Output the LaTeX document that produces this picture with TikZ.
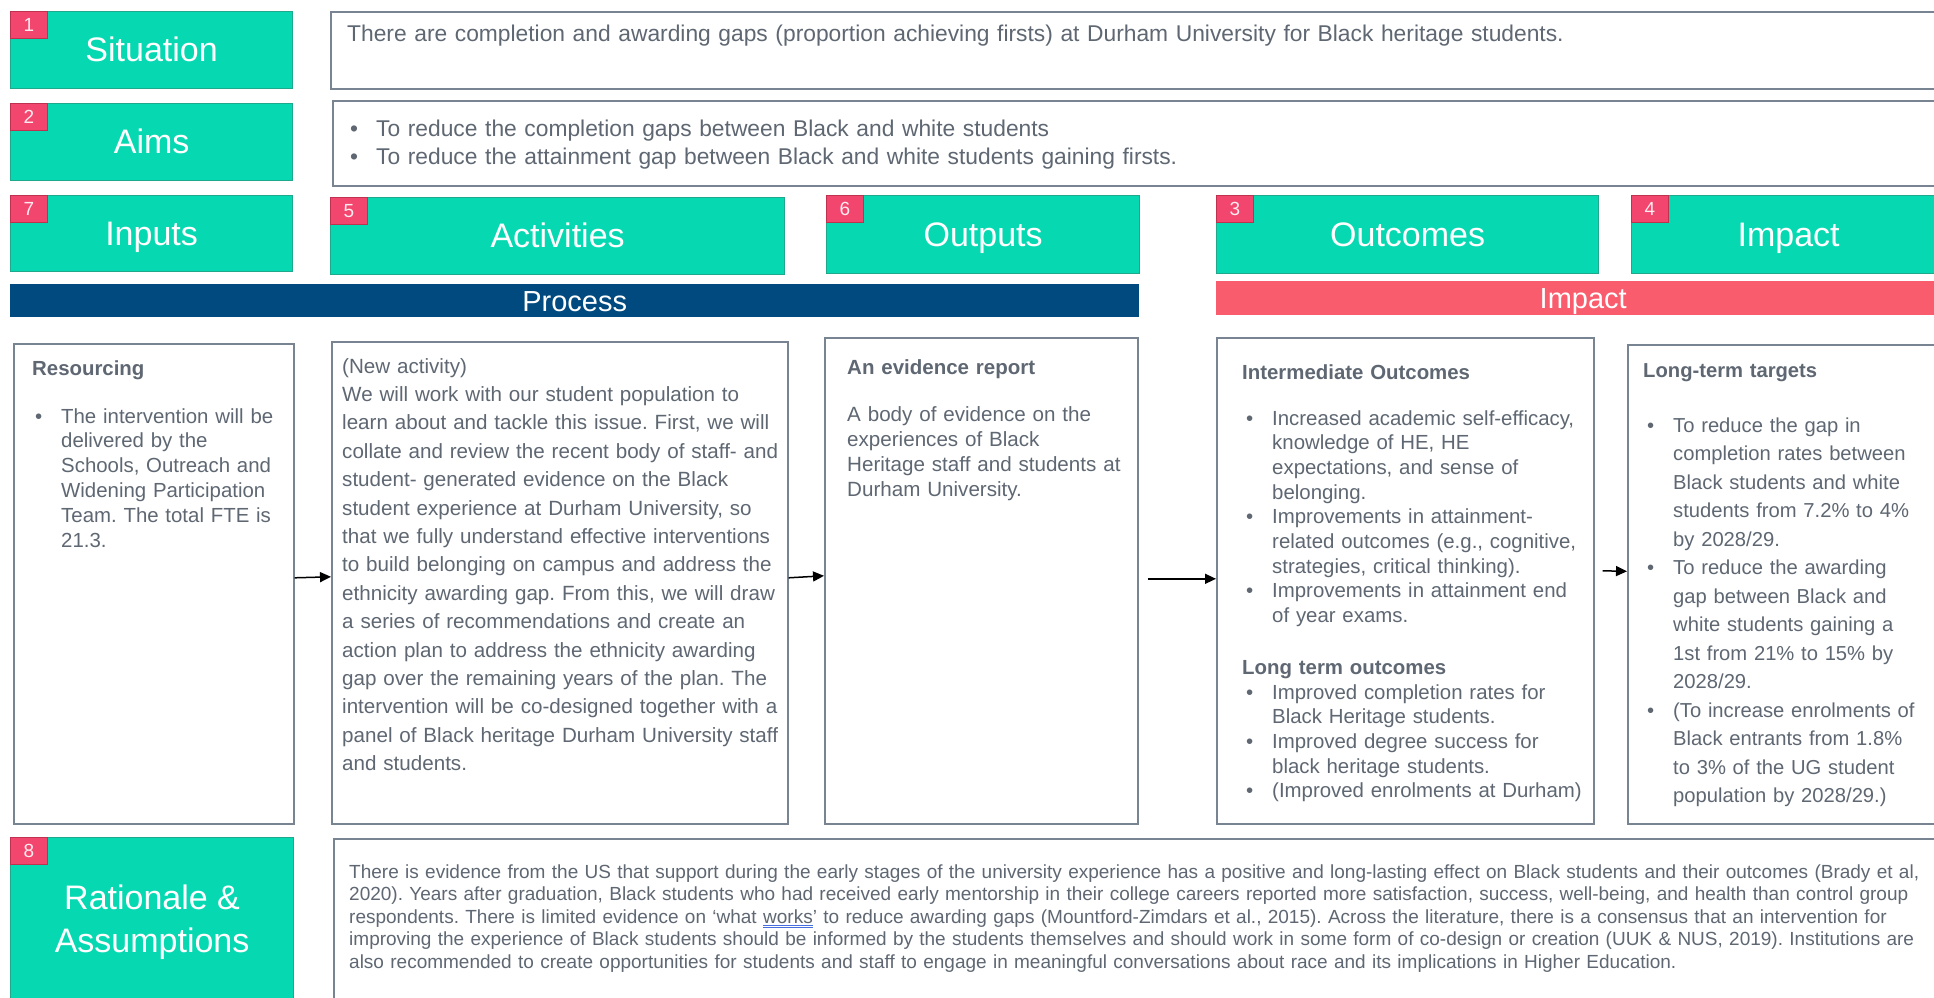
\documentclass[tikz,border=0pt]{standalone}
\usepackage{fontspec}
\setmainfont{Liberation Sans}
\usepackage{tikz}
\usetikzlibrary{arrows.meta}
\frenchspacing

\definecolor{tealfill}{RGB}{6,217,178}
\definecolor{tealline}{RGB}{32,168,140}
\definecolor{badgefill}{RGB}{242,70,110}
\definecolor{badgeline}{RGB}{190,50,80}
\definecolor{badgetext}{RGB}{255,236,240}
\definecolor{procfill}{RGB}{0,74,127}
\definecolor{impfill}{RGB}{249,92,108}
\definecolor{txtgrey}{RGB}{94,103,114}
\definecolor{boxline}{RGB}{120,132,146}
\definecolor{chkblue}{RGB}{70,110,220}

\newcommand{\bitem}{\makebox[26pt][l]{•}}
\newcommand{\bcont}{\hspace*{26pt}}
\newcommand{\chkline}[1]{{\setbox0\hbox{#1}\rlap{\color{chkblue}\rule[-3pt]{\wd0}{0.8pt}}\rlap{\color{chkblue}\rule[-5pt]{\wd0}{0.8pt}}#1}}

\begin{document}
\begin{tikzpicture}[x=1pt, y=-1pt,
    tealbox/.style={fill=tealfill, draw=tealline, line width=1.2pt, inner sep=0pt, anchor=north west, text=white, font=\fontsize{34}{43}\selectfont},
    lbl/.style={text height=25pt, text depth=2pt},
    badge/.style={fill=badgefill, draw=badgeline, line width=1pt, inner sep=0pt, anchor=north west, minimum width=37pt, minimum height=27pt, text=badgetext, font=\fontsize{19}{19}\selectfont},
    bar/.style={inner sep=0pt, anchor=north west, text=white, font=\fontsize{29}{29}\selectfont, text height=21pt, text depth=0pt},
    txtbox/.style={draw=boxline, line width=1.6pt, fill=white, inner sep=0pt, anchor=north west},
    body/.style={inner sep=0pt, anchor=base west, text=txtgrey, align=left, text width=#1},
    arr/.style={-{Triangle[length=11pt,width=10pt]}, line width=1.5pt, black}]

    \useasboundingbox (0,0) rectangle (1934,997);
    \fill[white] (0,0) rectangle (1934,997);
    \clip (0,0) rectangle (1934,997);

    % Draw the row headers
    \node[tealbox, lbl, minimum width=282pt, minimum height=77pt] (sit) at (10,11) {Situation};
    \node[tealbox, lbl, minimum width=282pt, minimum height=77pt] (aims) at (10,103) {Aims};
    \node[tealbox, lbl, minimum width=282pt, minimum height=76pt] (inp) at (10,195) {Inputs};
    \node[tealbox, lbl, minimum width=454pt, minimum height=77pt] (actv) at (330,197) {Activities};
    \node[tealbox, lbl, minimum width=313pt, minimum height=78pt] (outp) at (826,195) {Outputs};
    \node[tealbox, lbl, minimum width=382pt, minimum height=78pt] (outc) at (1216,195) {Outcomes};
    \node[tealbox, lbl, minimum width=314pt, minimum height=78pt] (imp) at (1631,195) {Impact};
    \node[tealbox, align=center, minimum width=283pt, minimum height=169pt] (rat) at (10,837) {Rationale \&\\Assumptions};

    % Number badges
    \node[badge] (n1) at (sit.north west) {1};
    \node[badge] (n2) at (aims.north west) {2};
    \node[badge] (n7) at (inp.north west) {7};
    \node[badge] (n5) at (actv.north west) {5};
    \node[badge] (n6) at (outp.north west) {6};
    \node[badge] (n3) at (outc.north west) {3};
    \node[badge] (n4) at (imp.north west) {4};
    \node[badge] (n8) at (rat.north west) {8};

    % Process and impact bars
    \node[bar, fill=procfill, minimum width=1129pt, minimum height=33pt] (procbar) at (10,284) {Process};
    \node[bar, fill=impfill, minimum width=734pt, minimum height=34pt] (impbar) at (1216,281) {Impact};

    % Situation and aims
    \node[txtbox, minimum width=1620pt, minimum height=77pt] (sitbox) at (330,11) {};
    \node[body=1500pt, font=\fontsize{22.8}{28}\selectfont] (sittext) at (347,41)
        {There are completion and awarding gaps (proportion achieving firsts) at Durham University for Black heritage students.};
    \node[txtbox, minimum width=1618pt, minimum height=85pt] (aimsbox) at (332,100) {};
    \node[body=1500pt, font=\fontsize{22.8}{28}\selectfont] (aimstext) at (350,136)
        {\bitem To reduce the completion gaps between Black and white students\\
         \bitem To reduce the attainment gap between Black and white students gaining firsts.};

    % Inputs
    \node[txtbox, minimum width=280pt, minimum height=480pt] (res) at (13,343) {};
    \node[body=250pt, font=\bfseries\fontsize{20.4}{24.8}\selectfont] (reshead) at (32,375) {Resourcing};
    \node[body=300pt, font=\fontsize{20.4}{24.8}\selectfont] (restext) at (35,423)
        {\bitem The intervention will be\\
         \bcont delivered by the\\
         \bcont Schools, Outreach and\\
         \bcont Widening Participation\\
         \bcont Team. The total FTE is\\
         \bcont 21.3.};

    % Activities
    \node[txtbox, minimum width=456pt, minimum height=482pt] (act) at (331,341) {};
    \node[body=500pt, font=\fontsize{20.6}{28.4}\selectfont] (acttext) at (342,373)
        {(New activity)\\
         We will work with our student population to\\
         learn about and tackle this issue. First, we will\\
         collate and review the recent body of staff- and\\
         student- generated evidence on the Black\\
         student experience at Durham University, so\\
         that we fully understand effective interventions\\
         to build belonging on campus and address the\\
         ethnicity awarding gap. From this, we will draw\\
         a series of recommendations and create an\\
         action plan to address the ethnicity awarding\\
         gap over the remaining years of the plan. The\\
         intervention will be co-designed together with a\\
         panel of Black heritage Durham University staff\\
         and students.};

    % Outputs
    \node[txtbox, minimum width=313pt, minimum height=486pt] (evi) at (824,337) {};
    \node[body=300pt, font=\bfseries\fontsize{20.5}{25}\selectfont] (evihead) at (847,374) {An evidence report};
    \node[body=350pt, font=\fontsize{20.6}{25}\selectfont] (evitext) at (847,421)
        {A body of evidence on the\\
         experiences of Black\\
         Heritage staff and students at\\
         Durham University.};

    % Outcomes
    \node[txtbox, minimum width=377pt, minimum height=486pt] (outcbox) at (1216,337) {};
    \node[body=350pt, font=\bfseries\fontsize{20.4}{24.7}\selectfont] (midhead) at (1242,379) {Intermediate Outcomes};
    \node[body=400pt, font=\fontsize{20.4}{24.7}\selectfont] (midtext) at (1246,425)
        {\bitem Increased academic self-efficacy,\\
         \bcont knowledge of HE, HE\\
         \bcont expectations, and sense of\\
         \bcont belonging.\\
         \bitem Improvements in attainment-\\
         \bcont related outcomes (e.g., cognitive,\\
         \bcont strategies, critical thinking).\\
         \bitem Improvements in attainment end\\
         \bcont of year exams.};
    \node[body=350pt, font=\bfseries\fontsize{20.4}{24.7}\selectfont] (longhead) at (1242,674) {Long term outcomes};
    \node[body=400pt, font=\fontsize{20.4}{24.7}\selectfont] (longtext) at (1246,699)
        {\bitem Improved completion rates for\\
         \bcont Black Heritage students.\\
         \bitem Improved degree success for\\
         \bcont black heritage students.\\
         \bitem (Improved enrolments at Durham)};

    % Impact
    \node[txtbox, minimum width=330pt, minimum height=479pt] (tgt) at (1627,344) {};
    \node[body=300pt, font=\bfseries\fontsize{20.2}{28.5}\selectfont] (tgthead) at (1643,377) {Long-term targets};
    \node[body=350pt, font=\fontsize{20.2}{28.5}\selectfont] (tgttext) at (1647,432)
        {\bitem To reduce the gap in\\
         \bcont completion rates between\\
         \bcont Black students and white\\
         \bcont students from 7.2\% to 4\%\\
         \bcont by 2028/29.\\
         \bitem To reduce the awarding\\
         \bcont gap between Black and\\
         \bcont white students gaining a\\
         \bcont 1st from 21\% to 15\% by\\
         \bcont 2028/29.\\
         \bitem (To increase enrolments of\\
         \bcont Black entrants from 1.8\%\\
         \bcont to 3\% of the UG student\\
         \bcont population by 2028/29.)};

    % Rationale
    \node[txtbox, minimum width=1617pt, minimum height=180pt] (ratbox) at (333,838) {};
    \node[body=1700pt, font=\fontsize{19}{22.5}\selectfont] (rattext) at (349,878)
        {There is evidence from the US that support during the early stages of the university experience has a positive and long-lasting effect on Black students and their outcomes (Brady et al,\\
         2020). Years after graduation, Black students who had received early mentorship in their college careers reported more satisfaction, success, well-being, and health than control group\\
         respondents. There is limited evidence on ‘what \chkline{works}’ to reduce awarding gaps (Mountford-Zimdars et al., 2015). Across the literature, there is a consensus that an intervention for\\
         improving the experience of Black students should be informed by the students themselves and should work in some form of co-design or creation (UUK \& NUS, 2019). Institutions are\\
         also recommended to create opportunities for students and staff to engage in meaningful conversations about race and its implications in Higher Education.};

    % Arrows between the columns
    \draw[arr] ([yshift=6pt]res.east) -- ([yshift=6pt]act.west);
    \draw[arr] ([yshift=5pt]act.east) -- ([yshift=5pt]evi.west);
    \draw[arr] ([xshift=9pt,yshift=2pt]evi.east) -- ([yshift=2pt]outcbox.west);
    \draw[arr] ([xshift=8pt,yshift=10pt]outcbox.east) -- ([yshift=13pt]tgt.west);
\end{tikzpicture}
\end{document}
